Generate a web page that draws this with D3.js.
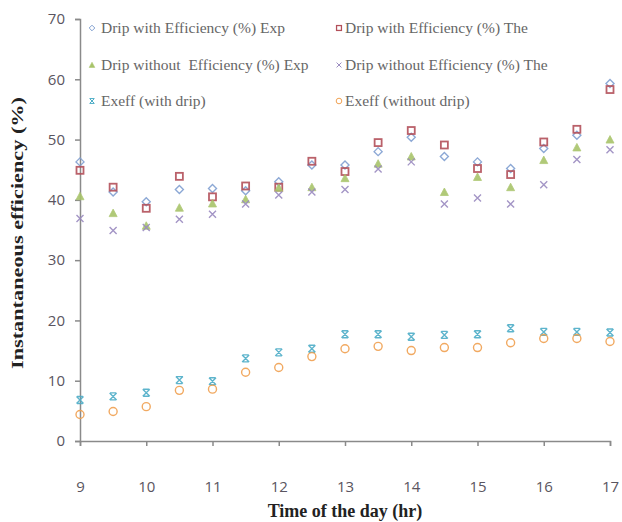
<!DOCTYPE html>
<html><head><meta charset="utf-8">
<script src="https://cdn.jsdelivr.net/npm/d3@7"></script>
<style>body{margin:0;background:#fff}svg{display:block}</style>
</head><body><svg id="c" width="622" height="522"></svg>
<script>
const hours = [9,9.5,10,10.5,11,11.5,12,12.5,13,13.5,14,14.5,15,15.5,16,16.5,17];
const dripWithExp   = [46.3,41.3,39.7,41.7,41.9,41.5,43.0,45.8,45.8,48.0,50.4,47.2,46.3,45.2,48.5,50.7,59.3];
const dripWithThe   = [44.9,42.1,38.6,43.9,40.5,42.3,42.1,46.4,44.7,49.5,51.5,49.1,45.2,44.2,49.6,51.7,58.3];
const dripWithoutExp= [40.6,37.8,35.7,38.7,39.4,40.1,42.0,42.1,43.6,46.0,47.2,41.3,43.8,42.1,46.6,48.7,50.0];
const dripWithoutThe= [36.9,34.9,35.4,36.8,37.6,39.3,40.8,41.3,41.7,45.1,46.3,39.3,40.3,39.3,42.5,46.7,48.3];
const exeffWith     = [6.8,7.4,8.0,10.1,9.9,13.7,14.7,15.3,17.7,17.7,17.3,17.6,17.7,18.7,18.1,18.1,18.0];
const exeffWithout  = [4.4,4.9,5.7,8.4,8.6,11.4,12.2,14.0,15.3,15.7,15.0,15.5,15.5,16.3,17.0,17.0,16.5];
const seriesNames = ["Drip with Efficiency (%) Exp","Drip with Efficiency (%) The",
  "Drip without\u00a0 Efficiency (%) Exp","Drip without Efficiency (%) The",
  "Exeff (with drip)","Exeff (without drip)"];
const xTicks = [9,10,11,12,13,14,15,16,17];
const yTicks = [0,10,20,30,40,50,60,70];

const series = [
  {name:seriesNames[0], values:dripWithExp, shape:"diamond", color:"#7f9fd0"},
  {name:seriesNames[1], values:dripWithThe, shape:"square", color:"#b3505a"},
  {name:seriesNames[2], values:dripWithoutExp, shape:"triangle", color:"#a8c46a"},
  {name:seriesNames[3], values:dripWithoutThe, shape:"x", color:"#9a8ac0"},
  {name:seriesNames[4], values:exeffWith, shape:"star", color:"#4bacc6"},
  {name:seriesNames[5], values:exeffWithout, shape:"circle", color:"#f0a050"}
];

const svg = d3.select("#c");
const x = d3.scaleLinear().domain([9,17]).range([80,610]);
const y = d3.scaleLinear().domain([0,70]).range([441,19]);
const axisColor = "#8a8a8a";

const xa = svg.append("g").attr("transform","translate(0,441)")
  .call(d3.axisBottom(x).tickValues(xTicks).tickSize(5).tickPadding(35).tickFormat(d3.format("d")));
const ya = svg.append("g").attr("transform","translate(80,0)")
  .call(d3.axisLeft(y).tickValues(yTicks).tickSize(5).tickPadding(10).tickFormat(d3.format("d")));
[xa,ya].forEach(a=>{
  a.selectAll("path,line").attr("stroke",axisColor).attr("stroke-width",1.5);
  a.selectAll("text").attr("fill","#5a5560").style("font-family","'Open Sans','DejaVu Sans',sans-serif").style("font-size","15px");
});

function drawMarker(g, shape, color){
  if(shape==="diamond"){
    g.append("path").attr("d","M0,-4L4,0L0,4L-4,0Z").attr("fill","none").attr("stroke",color).attr("stroke-width",1.4);
  } else if(shape==="square"){
    g.append("rect").attr("x",-3.5).attr("y",-3.5).attr("width",7).attr("height",7).attr("fill","none").attr("stroke",color).attr("stroke-width",1.8);
  } else if(shape==="triangle"){
    g.append("path").attr("d","M0,-4L4,3.5L-4,3.5Z").attr("fill",color).attr("stroke",color).attr("stroke-width",0.8);
  } else if(shape==="x"){
    g.append("path").attr("d","M-3.5,-3.5L3.5,3.5M-3.5,3.5L3.5,-3.5").attr("stroke",color).attr("stroke-width",1.4);
  } else if(shape==="star"){
    g.append("path").attr("d","M-3.5,-3.5L3.5,3.5M-3.5,3.5L3.5,-3.5M-3,-3.5L3,-3.5M-3,3.5L3,3.5").attr("stroke",color).attr("stroke-width",1.4).attr("fill","none");
  } else if(shape==="circle"){
    g.append("circle").attr("r",4).attr("fill","none").attr("stroke",color).attr("stroke-width",1.4);
  }
}

series.forEach(s=>{
  const g = svg.append("g");
  s.values.forEach((v,i)=>{
    const m = g.append("g").attr("transform",`translate(${x(hours[i])},${y(v)})`).attr("opacity",0.9);
    drawMarker(m, s.shape, s.color);
  });
});

// legend
const legPos = [[92,101,28],[339,345,28],[92,101,65],[339,345,65],[92,101,101],[339,345,101]];
series.forEach((s,i)=>{
  const [mx,tx,ly] = legPos[i];
  const m = svg.append("g").attr("transform",`translate(${mx},${ly}) scale(0.7)`);
  drawMarker(m, s.shape, s.color);
  svg.append("text").attr("x",tx).attr("y",ly+5).text(s.name)
    .attr("fill","#666").style("font-family","'Liberation Serif','DejaVu Serif',serif").style("font-size","15.5px");
});

// axis titles
svg.append("text").attr("x",345).attr("y",517).attr("text-anchor","middle")
  .text("Time of the day (hr)").style("font-family","'Liberation Serif',serif").style("font-weight","bold").style("font-size","18px").attr("fill","#222");
svg.append("text").attr("transform","translate(23,233) rotate(-90)").attr("text-anchor","middle")
  .attr("textLength",272).attr("lengthAdjust","spacingAndGlyphs")
  .text("Instantaneous efficiency (%)").style("font-family","'Liberation Serif',serif").style("font-weight","bold").style("font-size","16px").attr("fill","#222");
</script></body></html>
